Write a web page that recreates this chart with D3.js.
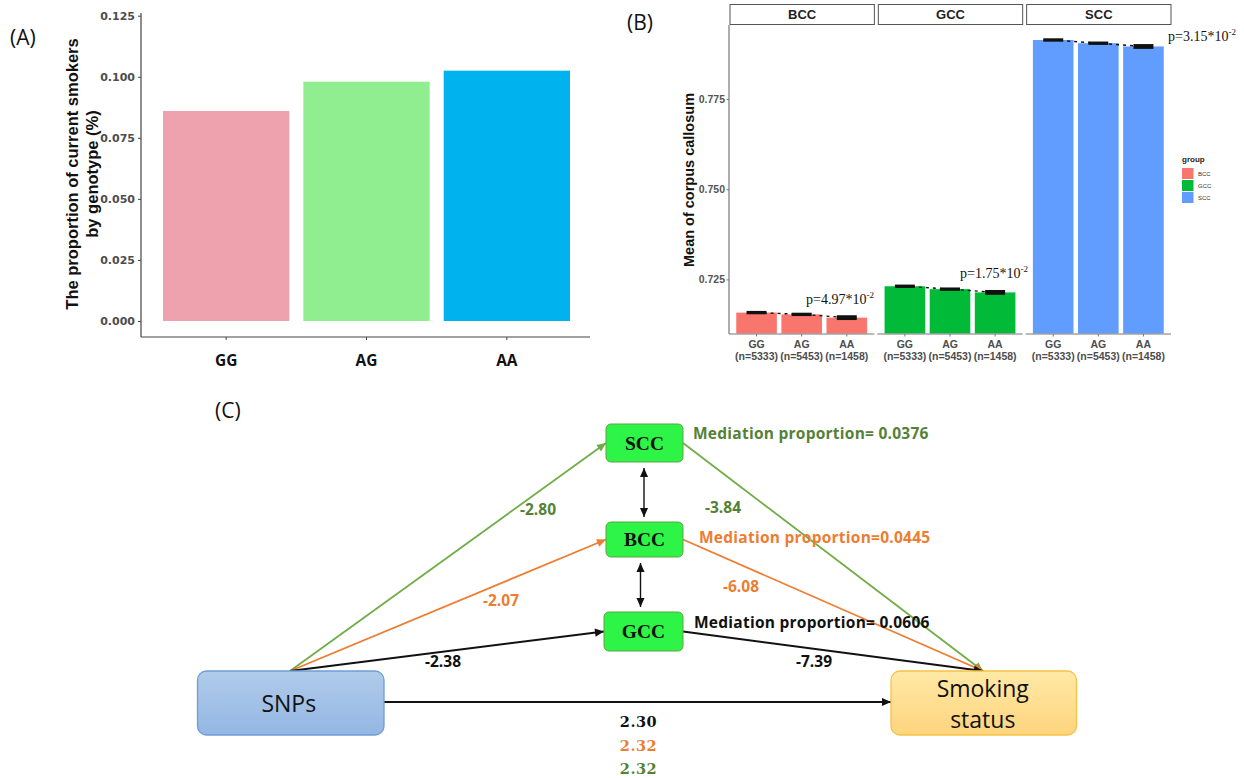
<!DOCTYPE html>
<html>
<head>
<meta charset="utf-8">
<script src="https://cdn.jsdelivr.net/npm/d3@7"></script>
<style>
  body { margin: 0; background: #fff; }
  svg { display: block; }
</style>
</head>
<body>
<svg id="fig" width="1244" height="778"></svg>
<script>
// ---------- Panel A: proportion of current smokers by genotype ----------
const genotypes = ["GG", "AG", "AA"];
const smokerProportion = [0.086, 0.098, 0.1025];
const genotypeColors = ["#EEA2AD", "#90EE90", "#00B2EE"];
const propTicks = [0, 0.025, 0.05, 0.075, 0.1, 0.125];

// ---------- Panel B: mean corpus callosum by region and genotype ----------
const regions = ["BCC", "GCC", "SCC"];
const regionColors = ["#F8766D", "#00BA38", "#619CFF"];
const genotypeN = ["(n=5333)", "(n=5453)", "(n=1458)"];
const meanBCC = [0.7158, 0.7153, 0.7144];
const meanGCC = [0.7231, 0.7223, 0.7214];
const meanSCC = [0.7914, 0.7905, 0.7896];
const seBCC = [0.0003, 0.0003, 0.0005];
const seGCC = [0.0003, 0.0003, 0.0005];
const seSCC = [0.0003, 0.0003, 0.0005];
const pMantissa = ["4.97", "1.75", "3.15"];
const pExponent = ["-2", "-2", "-2"];
const ccTicks = [0.725, 0.75, 0.775];

// ---------- Panel C: mediation model ----------
const mediators = ["SCC", "BCC", "GCC"];
const pathA = ["-2.80", "-2.07", "-2.38"];      // SNPs -> mediator
const pathB = ["-3.84", "-6.08", "-7.39"];      // mediator -> smoking
const mediationText = ["Mediation proportion= 0.0376", "Mediation proportion=0.0445", "Mediation proportion= 0.0606"];
const directEffect = ["2.30", "2.32", "2.32"];  // GCC, BCC, SCC models
const directColors = ["#111111", "#ED7D31", "#548235"];

const svg = d3.select("#fig");
const sans = "'Liberation Sans', Arial, sans-serif";
const open = "'Open Sans', sans-serif";

// ====================== PANEL A ======================
const gA = svg.append("g");
gA.append("text").attr("x", 10).attr("y", 45).text("(A)")
  .style("font-family", open).style("font-size", "21px").attr("fill", "#111");

const yA = d3.scaleLinear().domain([0, 0.125]).range([321, 15.7]);
const xA = d3.scaleBand().domain(genotypes).range([156, 577]).paddingInner(0.1).paddingOuter(0.05);

gA.selectAll("rect.barA").data(genotypes).join("rect")
  .attr("class", "barA")
  .attr("x", d => xA(d))
  .attr("width", xA.bandwidth())
  .attr("y", (d, i) => yA(smokerProportion[i]))
  .attr("height", (d, i) => yA(0) - yA(smokerProportion[i]))
  .attr("fill", (d, i) => genotypeColors[i]);

const axA = gA.append("g").attr("transform", "translate(141,0)")
  .call(d3.axisLeft(yA).tickValues(propTicks).tickFormat(d3.format(".3f")).tickSize(3).tickPadding(3));
axA.select(".domain").remove();
axA.selectAll("line").attr("stroke", "#444");
axA.selectAll("text").style("font-family", "'DejaVu Sans', sans-serif").style("font-weight", "bold")
  .style("font-size", "11px").attr("fill", "#4D4D4D");
gA.append("line").attr("x1", 141).attr("x2", 141).attr("y1", 13).attr("y2", 337).attr("stroke", "#444").attr("stroke-width", 1.2);
gA.append("line").attr("x1", 141).attr("x2", 590).attr("y1", 337).attr("y2", 337).attr("stroke", "#444").attr("stroke-width", 1.2);

const axAx = gA.append("g").attr("transform", "translate(0,337)")
  .call(d3.axisBottom(xA).tickSize(3).tickPadding(15));
axAx.select(".domain").remove();
axAx.selectAll("line").attr("stroke", "#444");
axAx.selectAll("text").style("font-family", open).style("font-weight", "bold").style("font-size", "15.5px").attr("fill", "#111");

const titleA = gA.append("text").attr("transform", "translate(0,174) rotate(-90)")
  .style("font-family", sans).style("font-weight", "bold").style("font-size", "16.5px").attr("fill", "#111")
  .attr("text-anchor", "middle");
titleA.append("tspan").attr("x", 0).attr("y", 78).text("The proportion of current smokers");
titleA.append("tspan").attr("x", 0).attr("y", 98).text("by genotype (%)");

// ====================== PANEL B ======================
const gB = svg.append("g");
gB.append("text").attr("x", 627).attr("y", 30).text("(B)")
  .style("font-family", open).style("font-size", "21px").attr("fill", "#111");

const yB = d3.scaleLinear().domain([0.71, 0.795]).range([333.5, 27]);
const panelX = d3.scaleBand().domain(regions).range([729, 1171]).paddingInner(0.02);
const meansByRegion = [meanBCC, meanGCC, meanSCC];
const seByRegion = [seBCC, seGCC, seSCC];

regions.forEach((r, ri) => {
  const x0 = panelX(r), pw = panelX.bandwidth();
  const xB = d3.scaleBand().domain(genotypes).range([x0 + 5, x0 + pw - 5]).paddingInner(0.1).paddingOuter(0.05);
  const means = meansByRegion[ri], ses = seByRegion[ri];
  const g = gB.append("g");

  // strip
  g.append("rect").attr("x", x0 + 1).attr("y", 4.5).attr("width", pw - 1).attr("height", 20)
    .attr("fill", "#fff").attr("stroke", "#555").attr("stroke-width", 1);
  g.append("text").attr("x", x0 + pw / 2 + 0.5).attr("y", 19).attr("text-anchor", "middle").text(r)
    .style("font-family", sans).style("font-weight", "bold").style("font-size", "13px").attr("fill", "#222");

  // bars
  g.selectAll("rect.bar").data(genotypes).join("rect").attr("class", "bar")
    .attr("x", d => xB(d)).attr("width", xB.bandwidth())
    .attr("y", (d, i) => yB(means[i]))
    .attr("height", (d, i) => yB.range()[0] - yB(means[i]))
    .attr("fill", regionColors[ri]);

  // dashed trend through the means
  const line = d3.line().x((d, i) => xB(genotypes[i]) + xB.bandwidth() / 2).y(d => yB(d));
  g.append("path").attr("d", line(means)).attr("fill", "none").attr("stroke", "#111")
    .attr("stroke-width", 1.4).attr("stroke-dasharray", "3,4");

  // error bars
  genotypes.forEach((gt, i) => {
    const cx = xB(gt) + xB.bandwidth() / 2, hw = 10;
    const y1 = yB(means[i] - ses[i]), y2 = yB(means[i] + ses[i]);
    g.append("rect").attr("x", cx - hw).attr("y", y2 - 0.6).attr("width", 2 * hw).attr("height", (y1 - y2) + 1.2)
      .attr("fill", "#111");
  });

  // x axis line and labels
  g.append("line").attr("x1", x0).attr("x2", x0 + pw).attr("y1", 334).attr("y2", 334)
    .attr("stroke", "#777").attr("stroke-width", 1.2);
  genotypes.forEach((gt, i) => {
    const cx = xB(gt) + xB.bandwidth() / 2;
    g.append("line").attr("x1", cx).attr("x2", cx).attr("y1", 334).attr("y2", 336.5).attr("stroke", "#777");
    g.append("text").attr("x", cx).attr("y", 347.5).attr("text-anchor", "middle").text(gt)
      .style("font-family", sans).style("font-weight", "bold").style("font-size", "10.5px").attr("fill", "#4D4D4D");
    g.append("text").attr("x", cx).attr("y", 359.5).attr("text-anchor", "middle").text(genotypeN[i])
      .style("font-family", sans).style("font-weight", "bold").style("font-size", "10.5px").attr("fill", "#4D4D4D");
  });
});

// p-value annotations
const pPos = [[806, 304], [960, 277.5], [1168, 41]];
pMantissa.forEach((m, i) => {
  const t = gB.append("text").attr("x", pPos[i][0]).attr("y", pPos[i][1])
    .style("font-family", "'Liberation Serif', 'Times New Roman', serif").style("font-size", "14px").attr("fill", "#111");
  t.append("tspan").text("p=" + m + "*10");
  t.append("tspan").attr("dy", -6).style("font-size", "9px").text(pExponent[i]);
});

// y axis
const axB = gB.append("g").attr("transform", "translate(729,0)")
  .call(d3.axisLeft(yB).tickValues(ccTicks).tickFormat(d3.format(".3f")).tickSize(2.5).tickPadding(1.5));
axB.select(".domain").remove();
axB.selectAll("line").attr("stroke", "#777");
axB.selectAll("text").style("font-family", sans).style("font-weight", "bold").style("font-size", "10.5px").attr("fill", "#555");
gB.append("line").attr("x1", 729).attr("x2", 729).attr("y1", 25).attr("y2", 334).attr("stroke", "#777").attr("stroke-width", 1.2);
gB.append("text").attr("transform", "translate(694,180) rotate(-90)").attr("text-anchor", "middle")
  .text("Mean of corpus callosum")
  .style("font-family", sans).style("font-weight", "bold").style("font-size", "14.5px").attr("fill", "#111");

// legend
const lg = gB.append("g").attr("transform", "translate(1182,0)");
lg.append("text").attr("x", 0).attr("y", 162).text("group")
  .style("font-family", sans).style("font-weight", "bold").style("font-size", "8px").attr("fill", "#222");
regions.forEach((r, i) => {
  lg.append("rect").attr("x", 0).attr("y", 168 + i * 12).attr("width", 11.5).attr("height", 11).attr("fill", regionColors[i]);
  lg.append("text").attr("x", 16).attr("y", 176 + i * 12).text(r)
    .style("font-family", sans).style("font-size", "6px").attr("fill", "#333");
});

// ====================== PANEL C ======================
const gC = svg.append("g");
gC.append("text").attr("x", 215).attr("y", 418).text("(C)")
  .style("font-family", open).style("font-size", "21px").attr("fill", "#111");

const defs = svg.append("defs");
const lineColors = { green: "#70AD47", orange: "#ED7D31", black: "#111111" };
Object.entries(lineColors).forEach(([k, c]) => {
  defs.append("marker").attr("id", "arr-" + k).attr("viewBox", "0 0 10 10")
    .attr("refX", 10).attr("refY", 5).attr("markerUnits", "userSpaceOnUse")
    .attr("markerWidth", 10).attr("markerHeight", 9).attr("orient", "auto-start-reverse")
    .append("path").attr("d", "M0,0.5 L10,5 L0,9.5 z").attr("fill", c);
});
const gradSNP = defs.append("linearGradient").attr("id", "gSNP").attr("x1", 0).attr("y1", 0).attr("x2", 0).attr("y2", 1);
gradSNP.append("stop").attr("offset", "0%").attr("stop-color", "#B1CBEA");
gradSNP.append("stop").attr("offset", "100%").attr("stop-color", "#93B7E3");
const gradSmk = defs.append("linearGradient").attr("id", "gSmk").attr("x1", 0).attr("y1", 0).attr("x2", 0).attr("y2", 1);
gradSmk.append("stop").attr("offset", "0%").attr("stop-color", "#FFE9A6");
gradSmk.append("stop").attr("offset", "100%").attr("stop-color", "#FFD47E");

// node layout
const snpBox = { x: 197.5, y: 671, w: 186.5, h: 64 };
const smkBox = { x: 891, y: 671, w: 185.5, h: 64 };
const medBox = {
  SCC: { x: 606, y: 424, w: 77, h: 38 },
  BCC: { x: 606, y: 522, w: 77, h: 35 },
  GCC: { x: 604, y: 612, w: 79, h: 39 }
};
const medStyle = {
  SCC: { line: "green", text: "#548235" },
  BCC: { line: "orange", text: "#ED7D31" },
  GCC: { line: "black", text: "#111111" }
};
const source = [290, 671], target = [983, 671];
const aLabelPos = { SCC: [520, 515], BCC: [483, 606], GCC: [425, 667] };
const bLabelPos = { SCC: [705, 513], BCC: [723, 592], GCC: [796, 667] };
const mLabelPos = { SCC: [693, 439], BCC: [699, 543], GCC: [694, 628] };

// mediated paths
mediators.forEach((m, i) => {
  const b = medBox[m], st = medStyle[m], c = lineColors[st.line];
  const midY = b.y + b.h / 2;
  const w = st.line === "black" ? 2 : 1.8;
  gC.append("line").attr("x1", source[0]).attr("y1", source[1]).attr("x2", b.x).attr("y2", midY)
    .attr("stroke", c).attr("stroke-width", w).attr("marker-end", `url(#arr-${st.line})`);
  gC.append("line").attr("x1", b.x + b.w).attr("y1", midY).attr("x2", target[0]).attr("y2", target[1])
    .attr("stroke", c).attr("stroke-width", w).attr("marker-end", `url(#arr-${st.line})`);
});

// direct path
gC.append("line").attr("x1", snpBox.x + snpBox.w).attr("y1", 702).attr("x2", smkBox.x).attr("y2", 702)
  .attr("stroke", "#111").attr("stroke-width", 2).attr("marker-end", "url(#arr-black)");

// correlations between mediators
[["SCC", "BCC", 644], ["BCC", "GCC", 640.5]].forEach(([a, b, x]) => {
  gC.append("line").attr("x1", x).attr("x2", x)
    .attr("y1", medBox[a].y + medBox[a].h + 6).attr("y2", medBox[b].y - 5)
    .attr("stroke", "#111").attr("stroke-width", 1.4)
    .attr("marker-start", "url(#arr-black)").attr("marker-end", "url(#arr-black)");
});

// mediator boxes
mediators.forEach(m => {
  const b = medBox[m];
  gC.append("rect").attr("x", b.x).attr("y", b.y).attr("width", b.w).attr("height", b.h).attr("rx", 5)
    .attr("fill", "#2DF446").attr("stroke", "#5BA543").attr("stroke-width", 1);
  gC.append("text").attr("x", b.x + b.w / 2).attr("y", b.y + b.h / 2 + 6.5).attr("text-anchor", "middle").text(m)
    .style("font-family", "'Liberation Serif', 'Times New Roman', serif").style("font-weight", "bold")
    .style("font-size", "19.5px").attr("fill", "#111");
});

// SNPs and outcome boxes
gC.append("rect").attr("x", snpBox.x).attr("y", snpBox.y).attr("width", snpBox.w).attr("height", snpBox.h).attr("rx", 9)
  .attr("fill", "url(#gSNP)").attr("stroke", "#6D9ED6").attr("stroke-width", 1.3);
gC.append("text").attr("x", snpBox.x + snpBox.w / 2 - 2).attr("y", 712).attr("text-anchor", "middle").text("SNPs")
  .style("font-family", open).style("font-size", "23px").attr("fill", "#111");
gC.append("rect").attr("x", smkBox.x).attr("y", smkBox.y).attr("width", smkBox.w).attr("height", smkBox.h).attr("rx", 9)
  .attr("fill", "url(#gSmk)").attr("stroke", "#F6C244").attr("stroke-width", 1.3);
gC.append("text").attr("x", smkBox.x + smkBox.w / 2 - 1).attr("y", 697).attr("text-anchor", "middle").text("Smoking")
  .style("font-family", open).style("font-size", "23px").attr("fill", "#111");
gC.append("text").attr("x", smkBox.x + smkBox.w / 2 - 1).attr("y", 728).attr("text-anchor", "middle").text("status")
  .style("font-family", open).style("font-size", "23px").attr("fill", "#111");

// coefficients and mediation proportions
mediators.forEach((m, i) => {
  const col = medStyle[m].text;
  gC.append("text").attr("x", aLabelPos[m][0]).attr("y", aLabelPos[m][1]).text(pathA[i])
    .style("font-family", open).style("font-weight", "bold").style("font-size", "15.5px").attr("fill", col);
  gC.append("text").attr("x", bLabelPos[m][0]).attr("y", bLabelPos[m][1]).text(pathB[i])
    .style("font-family", open).style("font-weight", "bold").style("font-size", "15.5px").attr("fill", col);
  gC.append("text").attr("x", mLabelPos[m][0]).attr("y", mLabelPos[m][1]).text(mediationText[i])
    .style("font-family", open).style("font-weight", "bold").style("font-size", "15.5px")
    .style("letter-spacing", "0.25px").attr("fill", col);
});

// direct effects
directEffect.forEach((v, i) => {
  gC.append("text").attr("x", 638.5).attr("y", 727 + i * 23.5).attr("text-anchor", "middle").text(v)
    .style("font-family", "'DejaVu Serif', serif").style("font-weight", "bold").style("font-size", "14.5px")
    .style("letter-spacing", "0.5px").attr("fill", directColors[i]);
});
</script>
</body>
</html>
